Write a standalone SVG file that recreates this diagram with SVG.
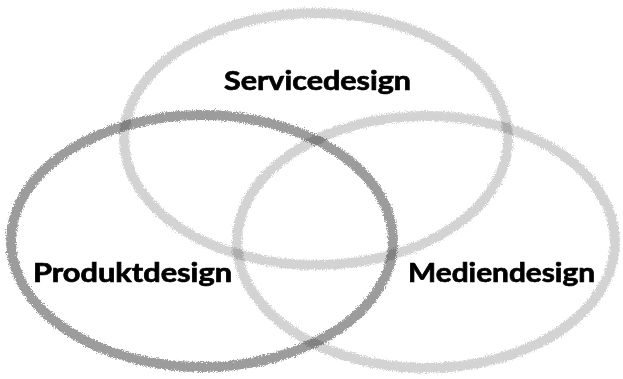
<svg xmlns="http://www.w3.org/2000/svg" width="623" height="379" viewBox="0 0 623 379">
<defs>
<filter id="chalk" x="-5%" y="-5%" width="110%" height="110%">
<feTurbulence type="fractalNoise" baseFrequency="0.9" numOctaves="2" seed="4" result="n"/>
<feDisplacementMap in="SourceGraphic" in2="n" scale="6" xChannelSelector="R" yChannelSelector="G"/>
</filter>
<style>
.ring{fill:none;stroke-width:10;filter:url(#chalk);mix-blend-mode:multiply}
.light{stroke:#d3d3d3}
.dark{stroke:#9c9c9c}
.lbl{font-family:Lato,"Open Sans","Liberation Sans",sans-serif;font-weight:700;font-size:26px;fill:#000;stroke:#000;stroke-width:0.7}
</style>
</defs>
<rect width="623" height="379" fill="#fff"/>
<g id="servicedesign">
<ellipse class="ring light" cx="316" cy="139" rx="192" ry="126"/>
<text class="lbl" x="224" y="90" textLength="187" lengthAdjust="spacingAndGlyphs">Servicedesign</text>
</g>
<g id="mediendesign">
<ellipse class="ring light" cx="426" cy="242" rx="189" ry="126"/>
<text class="lbl" x="408" y="282" textLength="187" lengthAdjust="spacingAndGlyphs">Mediendesign</text>
</g>
<g id="produktdesign">
<ellipse class="ring dark" cx="202" cy="241" rx="191" ry="126"/>
<text class="lbl" x="33" y="282" textLength="199" lengthAdjust="spacingAndGlyphs">Produktdesign</text>
</g>
</svg>
